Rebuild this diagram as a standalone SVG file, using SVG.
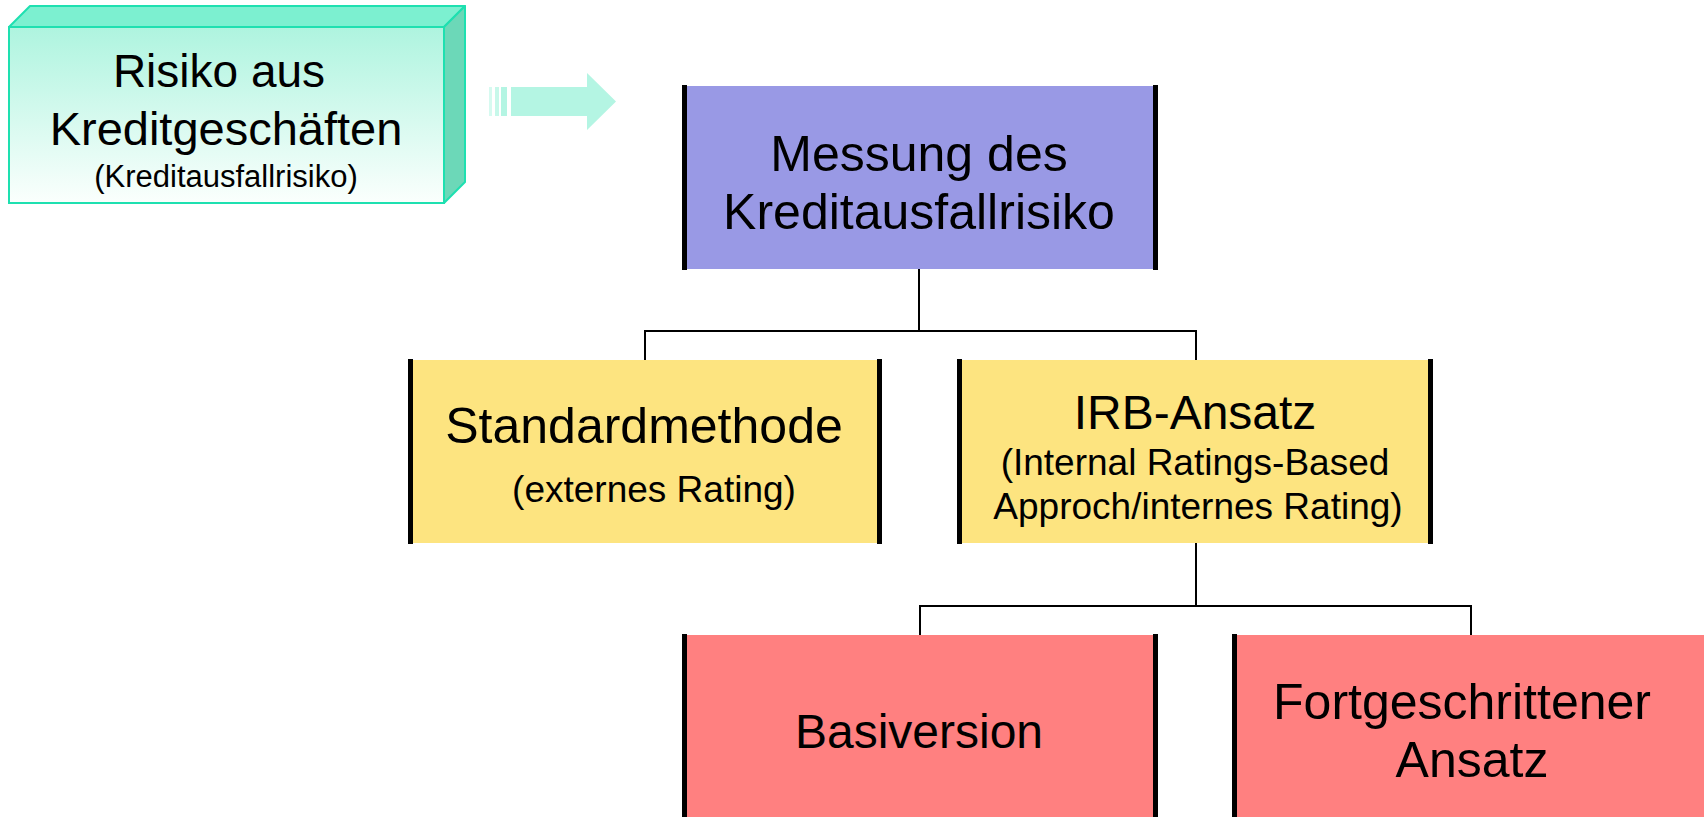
<svg xmlns="http://www.w3.org/2000/svg" width="1704" height="817" viewBox="0 0 1704 817">
  <defs>
    <linearGradient id="tealFront" x1="0" y1="0" x2="0" y2="1">
      <stop offset="0" stop-color="#aef4df"/>
      <stop offset="1" stop-color="#fbfffd"/>
    </linearGradient>
    <style>
      text { font-family: "Liberation Sans", Arial, sans-serif; fill: #000; text-anchor: middle; }
      .side { stroke: #000; stroke-width: 5; }
      .conn { fill: none; stroke: #000; stroke-width: 2; }
      .purple { fill: #9999e5; }
      .yellow { fill: #fde480; }
      .red { fill: #ff8080; }
    </style>
  </defs>

  <rect x="0" y="0" width="1704" height="817" fill="#ffffff"/>

  <!-- 3D teal block: source topic -->
  <g id="risiko">
    <polygon points="9,27 30,6 465,6 444,27" fill="#7cf0d0" stroke="#1ee0b0" stroke-width="2" stroke-linejoin="round"/>
    <polygon points="444,27 465,6 465,182 444,203" fill="#6cd8b8" stroke="#1ee0b0" stroke-width="2" stroke-linejoin="round"/>
    <rect x="9" y="27" width="435" height="176" fill="url(#tealFront)" stroke="#1ee0b0" stroke-width="2"/>
    <text x="219" y="87" font-size="46">Risiko aus</text>
    <text x="226" y="145" font-size="47">Kreditgeschäften</text>
    <text x="226" y="187" font-size="31">(Kreditausfallrisiko)</text>
  </g>

  <!-- pale block arrow pointing to the measurement box -->
  <g id="pfeil" fill="#b4f5e3">
    <rect x="489" y="87" width="3" height="29" opacity="0.55"/>
    <rect x="495" y="87" width="4" height="29" opacity="0.75"/>
    <rect x="501" y="87" width="6" height="29"/>
    <polygon points="511,87 587,87 587,73 616,101.5 587,130 587,116 511,116"/>
  </g>

  <!-- tree connectors -->
  <g id="connectors">
    <path class="conn" d="M919,269 V331 M645,331 H1196 M645,330 V360 M1196,330 V360"/>
    <path class="conn" d="M1196,543 V606 M920,606 H1471 M920,605 V635 M1471,605 V635"/>
  </g>

  <g id="messung">
    <rect class="purple" x="682" y="86" width="476" height="183"/>
    <line class="side" x1="684.5" y1="85" x2="684.5" y2="270"/>
    <line class="side" x1="1155.5" y1="85" x2="1155.5" y2="270"/>
    <text x="919" y="171" font-size="50">Messung des</text>
    <text x="919" y="229" font-size="50">Kreditausfallrisiko</text>
  </g>

  <g id="standard">
    <rect class="yellow" x="408" y="360" width="474" height="183"/>
    <line class="side" x1="410.5" y1="359" x2="410.5" y2="544"/>
    <line class="side" x1="879.5" y1="359" x2="879.5" y2="544"/>
    <text x="644" y="443" font-size="50">Standardmethode</text>
    <text x="654" y="502" font-size="37">(externes Rating)</text>
  </g>

  <g id="irb">
    <rect class="yellow" x="957" y="360" width="476" height="183"/>
    <line class="side" x1="959.5" y1="359" x2="959.5" y2="544"/>
    <line class="side" x1="1430.5" y1="359" x2="1430.5" y2="544"/>
    <text x="1195" y="429" font-size="48">IRB-Ansatz</text>
    <text x="1195" y="475" font-size="37">(Internal Ratings-Based</text>
    <text x="1198" y="519" font-size="37">Approch/internes Rating)</text>
  </g>

  <g id="basis">
    <rect class="red" x="682" y="635" width="476" height="190"/>
    <line class="side" x1="684.5" y1="634" x2="684.5" y2="825"/>
    <line class="side" x1="1155.5" y1="634" x2="1155.5" y2="825"/>
    <text x="919" y="748" font-size="48">Basiversion</text>
  </g>

  <g id="fortgeschritten">
    <rect class="red" x="1232" y="635" width="476" height="190"/>
    <line class="side" x1="1234.5" y1="634" x2="1234.5" y2="825"/>
    <text x="1462" y="719" font-size="50">Fortgeschrittener</text>
    <text x="1472" y="777" font-size="50">Ansatz</text>
  </g>
</svg>
